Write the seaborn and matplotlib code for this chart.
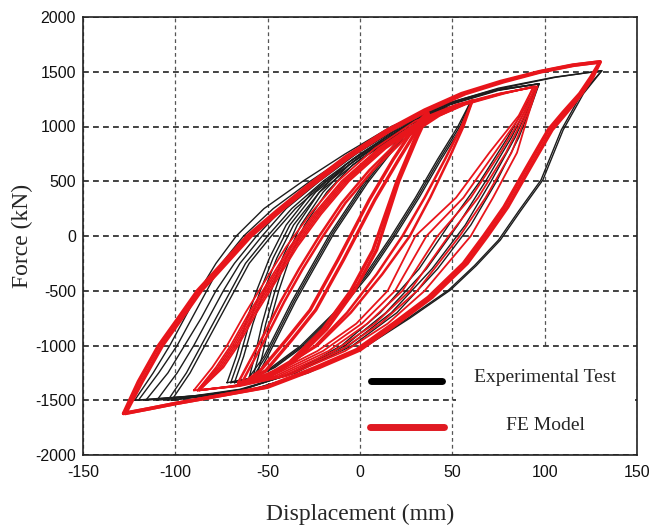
import matplotlib
matplotlib.use("Agg")
import matplotlib.pyplot as plt
import seaborn as sns
import pandas as pd
from matplotlib.patches import Rectangle
from matplotlib.lines import Line2D

# ---------------- axis ticks ----------------
X_TICKS = [-150, -100, -50, 0, 50, 100, 150]
Y_TICKS = [-2000, -1500, -1000, -500, 0, 500, 1000, 1500, 2000]

# ---------------- Experimental test (black) ----------------
# group E1 (small cycles)
E1_UP_Y = [-1290, -1100, -800, -500, -200, 100, 400, 650, 850, 950]
E1_UP_X1 = [-60, -57, -53, -48, -42, -34, -22, -8, 10, 24]
E1_UP_X2 = [-58, -55, -51, -46, -40, -32, -20, -6, 12, 25]
E1_UP_X3 = [-56, -53, -49, -44, -38, -30, -18, -4, 14, 26]
E1_LO_Y = [950, 700, 483, 27, -300, -600, -900, -1100, -1290]
E1_LO_X1 = [24, 12, 2, -16, -27, -37, -46, -52, -60]
E1_LO_X2 = [25, 13, 3, -15, -26, -36, -45, -51, -58]
E1_LO_X3 = [26, 14, 4, -14, -25, -35, -44, -50, -56]

# group E2
E2_UP_Y = [-1340, -1100, -800, -500, -200, 100, 400, 700, 950, 1130, 1230]
E2_UP_X1 = [-72, -67, -62, -56, -49, -40, -26, -4, 18, 38, 60]
E2_UP_X2 = [-70, -65, -60, -54, -47, -38, -24, -2, 20, 40, 60]
E2_UP_X3 = [-68, -63, -58, -52, -45, -36, -22, 0, 22, 42, 60]
E2_LO_Y = [1230, 1000, 700, 350, 0, -350, -700, -1000, -1200, -1300, -1340]
E2_LO_X1 = [60, 53, 42, 30, 17, 3, -14, -32, -48, -60, -72]
E2_LO_X2 = [60, 54, 43, 31, 18, 4, -13, -31, -47, -59, -70]
E2_LO_X3 = [60, 55, 44, 32, 19, 5, -12, -30, -46, -58, -68]

# group E3
E3_UP_Y = [-1500, -1250, -1000, -750, -500, -250, 0, 250, 500, 750, 1000, 1200, 1330, 1390]
E3_UP_X1 = [-116, -104, -95, -86, -78, -68, -56, -42, -24, -4, 20, 45, 72, 97]
E3_UP_X2 = [-110, -99, -90, -82, -74, -65, -53, -40, -22, -2, 22, 47, 73, 97]
E3_UP_X3 = [-104, -94, -86, -78, -70, -62, -50, -37, -20, 0, 24, 48, 74, 97]
E3_UP_X4 = [-102, -92, -84, -76, -68, -60, -48, -35, -18, 2, 25, 49, 75, 97]
E3_LO_Y = [1390, 1200, 900, 500, 100, -300, -700, -1000, -1250, -1400, -1460, -1500]
E3_LO_X1 = [97, 93, 86, 74, 60, 42, 20, -4, -35, -65, -90, -116]
E3_LO_X2 = [97, 92, 84, 71, 57, 39, 17, -6, -35, -64, -87, -110]
E3_LO_X3 = [97, 91, 82, 68, 53, 36, 14, -8, -36, -63, -84, -104]
E3_LO_X4 = [97, 90, 80, 65, 48, 32, 11, -10, -37, -63, -82, -102]

# group E4 (largest cycles)
E4_UP_Y = [-1500, -1250, -1000, -750, -500, -250, 0, 250, 500, 750, 1000, 1200, 1350, 1450, 1510]
E4_UP_X1 = [-122, -112, -103, -95, -87, -78, -67, -52, -31, -8, 17, 45, 75, 105, 131]
E4_UP_X2 = [-120, -109, -99, -91, -83, -75, -63, -47, -27, -5, 19, 47, 77, 106, 131]
E4_LO_Y = [1510, 1300, 968, 511, 230, -37, -270, -493, -750, -1000, -1250, -1400, -1460, -1500]
E4_LO_X1 = [131, 121, 110, 99, 87, 76, 63, 49, 27, 4, -28, -58, -90, -122]
E4_LO_X2 = [131, 120, 109, 98, 86, 75, 62, 48, 26, 3, -29, -58, -89, -120]

# ---------------- FE model (red) ----------------
R1_UP_Y = [-1330, -1230, -950, -676, -219, 329, 700, 1030, 1120]
R1_UP_X1 = [-62, -54, -40, -27, -12, 5, 18, 31, 36]
R1_UP_X2 = [-60, -51, -37, -24, -9, 8, 21, 33, 37]
R1_LO_Y = [1120, 900, 500, -128, -500, -850, -1150, -1270, -1330]
R1_LO_X1 = [36, 30, 20, 7, -5, -20, -38, -50, -62]
R1_LO_X2 = [37, 31, 21, 9, -3, -18, -36, -48, -60]

R2_UP_Y = [-1340, -1150, -900, -600, -300, 0, 300, 600, 900, 1100, 1240]
R2_UP_X1 = [-66, -60, -52, -43, -33, -22, -10, 5, 23, 42, 61]
R2_UP_X2 = [-64, -58, -50, -41, -31, -20, -8, 7, 25, 43, 61]
R2_LO_Y = [1240, 1000, 700, 350, 0, -350, -700, -1000, -1200, -1300, -1340]
R2_LO_X1 = [61, 56, 48, 38, 27, 12, -5, -23, -42, -56, -66]
R2_LO_X2 = [61, 55, 46, 35, 23, 9, -7, -24, -41, -55, -64]

R3_UP_Y = [-1410, -1200, -1000, -700, -400, -100, 200, 500, 800, 1050, 1200, 1300, 1365]
R3_UP_X1 = [-90, -80, -72, -62, -51, -40, -27, -12, 8, 30, 52, 75, 96]
R3_UP_X2 = [-88, -78, -70, -60, -49, -38, -25, -10, 10, 32, 53, 76, 96]
R3_UP_X3 = [-88, -77, -69, -59, -48, -37, -24, -9, 11, 33, 54, 76, 95]
R3_UP_X4 = [-88, -76, -68, -58, -47, -36, -23, -8, 12, 34, 55, 77, 95]
R3_UP_X5 = [-87, -75, -67, -57, -46, -35, -22, -7, 13, 35, 56, 77, 94]
R3_UP_X6 = [-87, -74, -66, -56, -45, -34, -21, -6, 14, 36, 57, 78, 94]
R3_LO_Y = [1365, 1100, 760, 350, 0, -500, -800, -1050, -1280, -1370, -1410]
R3_LO_X1 = [96, 91, 85, 72, 60, 35, 15, -8, -40, -65, -90]
R3_LO_X2 = [96, 90, 82, 68, 54, 31, 11, -11, -42, -66, -88]
R3_LO_X3 = [95, 89, 79, 64, 48, 27, 8, -14, -44, -67, -88]
R3_LO_X4 = [95, 88, 76, 60, 42, 23, 4, -17, -46, -68, -88]
R3_LO_X5 = [94, 87, 73, 56, 36, 19, 1, -20, -48, -68, -87]
R3_LO_X6 = [94, 86, 70, 52, 30, 15, -2, -23, -50, -69, -87]

R4_UP_Y = [-1620, -1330, -1000, -740, -500, -260, 0, 230, 450, 720, 960, 1150, 1300, 1410, 1500, 1560, 1590]
R4_UP_X1 = [-128, -120, -109, -98, -88, -75, -61, -45, -29, -8, 14, 35, 55, 76, 97, 115, 130]
R4_UP_X2 = [-127, -118, -107, -96, -86, -73, -59, -43, -27, -6, 16, 37, 57, 78, 98, 116, 130]
R4_LO_Y = [1590, 1450, 1300, 1130, 970, 620, 265, 0, -250, -560, -800, -1040, -1200, -1380, -1470, -1530, -1580, -1620]
R4_LO_X1 = [130, 126, 120, 112, 104, 92, 80, 69, 58, 39, 20, 0, -22, -50, -80, -100, -115, -128]
R4_LO_X2 = [129, 125, 119, 110, 102, 90, 78, 67, 56, 37, 18, -2, -24, -51, -80, -100, -115, -127]

LEGEND_LABELS = ["Experimental Test", "FE Model"]


def build(up_y, up_xs, lo_y, lo_xs, name):
    rows = []
    for k, (ux, lx) in enumerate(zip(up_xs, lo_xs)):
        xs = list(ux) + list(lx)[1:]
        ys = list(up_y) + list(lo_y)[1:]
        for x, y in zip(xs, ys):
            rows.append((f"{name}{k}", x, y))
    return pd.DataFrame(rows, columns=["loop", "disp", "force"])


exp_groups = [
    build(E1_UP_Y, [E1_UP_X1, E1_UP_X2, E1_UP_X3], E1_LO_Y, [E1_LO_X1, E1_LO_X2, E1_LO_X3], "e1"),
    build(E2_UP_Y, [E2_UP_X1, E2_UP_X2, E2_UP_X3], E2_LO_Y, [E2_LO_X1, E2_LO_X2, E2_LO_X3], "e2"),
    build(E3_UP_Y, [E3_UP_X1, E3_UP_X2, E3_UP_X3, E3_UP_X4], E3_LO_Y,
          [E3_LO_X1, E3_LO_X2, E3_LO_X3, E3_LO_X4], "e3"),
    build(E4_UP_Y, [E4_UP_X1, E4_UP_X2], E4_LO_Y, [E4_LO_X1, E4_LO_X2], "e4"),
]
fe_groups = [
    (build(R3_UP_Y, [R3_UP_X1, R3_UP_X2, R3_UP_X3, R3_UP_X4, R3_UP_X5, R3_UP_X6], R3_LO_Y,
           [R3_LO_X1, R3_LO_X2, R3_LO_X3, R3_LO_X4, R3_LO_X5, R3_LO_X6], "r3"), 1.3),
    (build(R2_UP_Y, [R2_UP_X1, R2_UP_X2], R2_LO_Y, [R2_LO_X1, R2_LO_X2], "r2"), 1.8),
    (build(R1_UP_Y, [R1_UP_X1, R1_UP_X2], R1_LO_Y, [R1_LO_X1, R1_LO_X2], "r1"), 2.4),
    (build(R4_UP_Y, [R4_UP_X1, R4_UP_X2], R4_LO_Y, [R4_LO_X1, R4_LO_X2], "r4"), 2.6),
]

sns.set_style("white")
plt.rcParams["font.family"] = ["Liberation Sans", "DejaVu Sans"]

fig = plt.figure(figsize=(6.5, 5.28), dpi=100)
ax = fig.add_axes([83 / 650, 1 - 455 / 528, (637 - 83) / 650, (455 - 17) / 528])

for df in exp_groups:
    sns.lineplot(data=df, x="disp", y="force", units="loop", estimator=None,
                 sort=False, color="#1c1c1c", lw=1.0, ax=ax, legend=False, zorder=3)
for df, lw in fe_groups:
    sns.lineplot(data=df, x="disp", y="force", units="loop", estimator=None,
                 sort=False, color="#e8151b", lw=lw, ax=ax, legend=False, zorder=4)

ax.set_xlim(-150, 150)
ax.set_ylim(-2000, 2000)
ax.set_xticks(X_TICKS)
ax.set_yticks(Y_TICKS)
ax.set_xticklabels([str(t) for t in X_TICKS])
ax.set_yticklabels([str(t) for t in Y_TICKS])
ax.tick_params(direction="in", length=4, width=1, colors="#111", labelsize=11.5,
               top=False, right=False)
ax.tick_params(axis="x", pad=7)
ax.tick_params(axis="y", pad=5)

ax.xaxis.grid(True, ls=(0, (3, 2.5)), color="#555", lw=0.9)
ax.yaxis.grid(True, ls=(0, (3.5, 2.5)), color="#222", lw=1.2)
ax.set_axisbelow(True)
for s in ax.spines.values():
    s.set_color("#222")
    s.set_linewidth(1.2)

ax.set_xlabel("Displacement (mm)", fontsize=17, family=["Liberation Serif"])
ax.set_ylabel("Force (kN)", fontsize=17, family=["Liberation Serif"])
ax.xaxis.label.set_va("center")
ax.yaxis.label.set_va("center")
ax.xaxis.set_label_coords(0.5, (455 - 514) / 438)
ax.yaxis.set_label_coords((22 - 83) / 554, 0.5)

# legend area
ax.add_patch(Rectangle((0.674, 0.003), 0.323, 0.244, transform=ax.transAxes,
                       facecolor="white", edgecolor="none", zorder=2))
ax.add_line(Line2D([0.52, 0.648], [0.17, 0.17], transform=ax.transAxes,
                   color="black", lw=5, solid_capstyle="round", zorder=5))
ax.add_line(Line2D([0.518, 0.652], [0.063, 0.063], transform=ax.transAxes,
                   color="#e01a22", lw=5, solid_capstyle="round", zorder=5))
ax.text(0.834, 0.178, LEGEND_LABELS[0], transform=ax.transAxes, ha="center", va="center",
        fontsize=14, family=["Liberation Serif"], zorder=6)
ax.text(0.834, 0.068, LEGEND_LABELS[1], transform=ax.transAxes, ha="center", va="center",
        fontsize=14, family=["Liberation Serif"], zorder=6)

fig.savefig("out.png", dpi=100)
